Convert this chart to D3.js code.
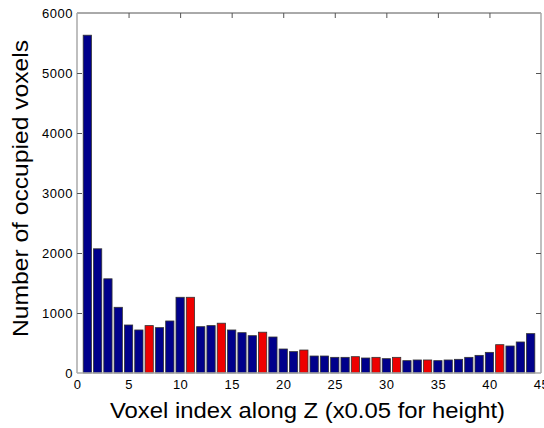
<!DOCTYPE html>
<html><head><meta charset="utf-8">
<script src="https://cdn.jsdelivr.net/npm/d3@7"></script>
<style>body{margin:0;background:#fff}svg{display:block}</style>
</head><body>
<script>
const indices = d3.range(1, 45);
const counts = [5630,2070,1570,1095,800,717,790,756,867,1262,1262,772,790,830,717,672,622,680,600,400,356,383,
  283,283,261,261,272,250,261,239,261,206,217,217,206,217,228,261,294,344,472,450,517,656];
const redIdx = [7,11,14,18,22,27,29,31,34,41];
const xTicks = [0,5,10,15,20,25,30,35,40,45];
const yTicks = [0,1000,2000,3000,4000,5000,6000];

const W = 544, H = 428;
const m = {l:77, r:3, t:13, b:55};
const svg = d3.select("body").append("svg").attr("width", W).attr("height", H);
const x = d3.scaleLinear().domain([0,45]).range([m.l, W - m.r]);
const y = d3.scaleLinear().domain([0,6000]).range([H - m.b, m.t]);
const font = "'Liberation Sans', Arial, sans-serif";

// bars
const bw = x(0.8) - x(0);
svg.append("g").selectAll("rect").data(indices).join("rect")
  .attr("x", d => x(d) - bw/2)
  .attr("y", (d,i) => y(counts[i]))
  .attr("width", bw)
  .attr("height", (d,i) => y(0) - y(counts[i]))
  .attr("fill", d => redIdx.includes(d) ? "#ee0000" : "#00008b")
  .attr("stroke", "#333").attr("stroke-width", 0.8);

// box
svg.append("line").attr("x1", x(0)).attr("x2", x(45)).attr("y1", y(6000)).attr("y2", y(6000)).attr("stroke", "#555");
svg.append("line").attr("x1", x(0)).attr("x2", x(45)).attr("y1", y(0)).attr("y2", y(0)).attr("stroke", "#aaa").attr("stroke-width", 1.5);
svg.append("line").attr("x1", x(0)).attr("x2", x(0)).attr("y1", y(0)).attr("y2", y(6000)).attr("stroke", "#aaa").attr("stroke-width", 1.5);
svg.append("line").attr("x1", x(45)).attr("x2", x(45)).attr("y1", y(0)).attr("y2", y(6000)).attr("stroke", "#aaa").attr("stroke-width", 1.5);

// axes
const xa = svg.append("g").attr("transform", `translate(0,${y(0)})`)
  .call(d3.axisBottom(x).tickValues(xTicks).tickSize(0).tickPadding(7));
xa.select(".domain").remove();
xa.selectAll("text").attr("font-family", font).attr("font-size", 13).attr("letter-spacing", 0.5).attr("fill", "#000");
const xt = svg.append("g").attr("transform", `translate(0,${y(6000)})`)
  .call(d3.axisBottom(x).tickValues(xTicks.slice(1,-1)).tickSize(5).tickFormat(""));
xt.select(".domain").remove(); xt.selectAll("line").attr("stroke", "#555");

const ya = svg.append("g").attr("transform", `translate(${x(0)},0)`)
  .call(d3.axisLeft(y).tickValues(yTicks).tickSize(0).tickPadding(4).tickFormat(d3.format("d")));
ya.select(".domain").remove();
ya.selectAll("text").attr("font-family", font).attr("font-size", 13).attr("letter-spacing", 0.5).attr("fill", "#000");
const yt1 = svg.append("g").attr("transform", `translate(${x(0)},0)`)
  .call(d3.axisRight(y).tickValues(yTicks.slice(1,-1)).tickSize(5).tickFormat(""));
yt1.select(".domain").remove(); yt1.selectAll("line").attr("stroke", "#555");
const yt2 = svg.append("g").attr("transform", `translate(${x(45)},0)`)
  .call(d3.axisLeft(y).tickValues(yTicks.slice(1,-1)).tickSize(5).tickFormat(""));
yt2.select(".domain").remove(); yt2.selectAll("line").attr("stroke", "#555");

// labels
svg.append("text").attr("x", 110).attr("y", 418)
  .attr("font-family", font).attr("font-size", 21.5).attr("fill", "#000")
  .attr("textLength", 395).attr("lengthAdjust", "spacingAndGlyphs")
  .text("Voxel index along Z (x0.05 for height)");
svg.append("text").attr("transform", `translate(28,337) rotate(-90)`)
  .attr("font-family", font).attr("font-size", 21.5).attr("fill", "#000")
  .attr("textLength", 297).attr("lengthAdjust", "spacingAndGlyphs")
  .text("Number of occupied voxels");
</script>
</body></html>
